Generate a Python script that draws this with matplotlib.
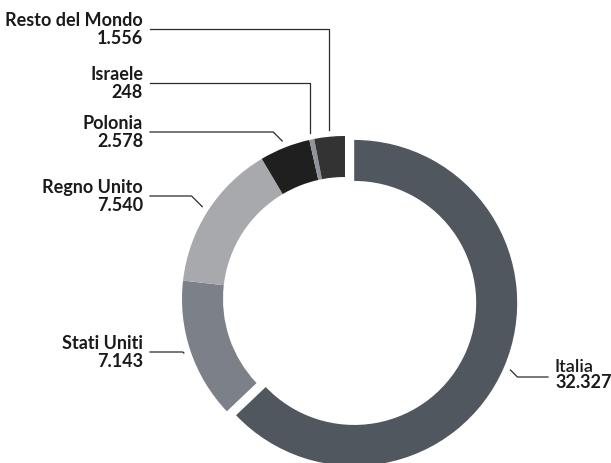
import matplotlib.pyplot as plt
import numpy as np

# Ripartizione per paese (valori in formato italiano)
countries = ['Italia', 'Stati Uniti', 'Regno Unito', 'Polonia', 'Israele', 'Resto del Mondo']
values = [32327, 7143, 7540, 2578, 248, 1556]
colors = ['#51575f', '#7b8089', '#a7a9ac', '#1f1f1f', '#8f949c', '#333333']

W, H = 611, 464

def fmt(v):
    return f'{v:,}'.replace(',', '.')

def py(y):
    # pixel row -> data y
    return H - y

fig = plt.figure(figsize=(W / 100, H / 100), dpi=100)
ax = fig.add_axes([0, 0, 1, 1])

radius = 163
explode = [10, 0, 0, 0, 0, 0]
wedges, _ = ax.pie(values, colors=colors, radius=radius, center=(345, py(300)),
                   startangle=90, counterclock=False, explode=explode,
                   wedgeprops=dict(width=41, linewidth=0), frame=True)
ax.set_xlim(0, W)
ax.set_ylim(0, H)
ax.set_aspect('equal')
ax.axis('off')

# leader line row for each label (pixel rows)
lead_y = [378, 353, 197, 133, 84, 30]

font = dict(family=['Lato', 'DejaVu Sans'], fontsize=13, color='#1a1a1a')
line_kw = dict(color='#2b2b2b', lw=0.9)

for w, name, v, ly in zip(wedges, countries, values, lead_y):
    ang = np.deg2rad((w.theta1 + w.theta2) / 2)
    cx, cy = w.center
    ax_x = cx + 170 * np.cos(ang)
    ax_y = cy + 170 * np.sin(ang)
    anchor_px = H - ax_y
    dy = abs(anchor_px - ly)
    right_side = np.cos(ang) > 0
    if dy > 40:
        ex = ax_x
    else:
        ex = ax_x + dy if right_side else ax_x - dy
    if right_side:
        ax.plot([ax_x, ex, 548], [ax_y, py(ly), py(ly)], **line_kw)
        ax.text(555, py(ly - 5.5), name, ha='left', va='baseline',
                fontweight='semibold', **font)
        ax.text(555, py(ly + 10), fmt(v), ha='left', va='baseline',
                fontweight='bold', **font)
    else:
        ax.plot([ax_x, ex, 150], [ax_y, py(ly), py(ly)], **line_kw)
        ax.text(143, py(ly - 4), name, ha='right', va='baseline',
                fontweight='bold', **font)
        ax.text(143, py(ly + 14), fmt(v), ha='right', va='baseline',
                fontweight='bold', **font)

fig.savefig('out.png', dpi=100, facecolor='white')
